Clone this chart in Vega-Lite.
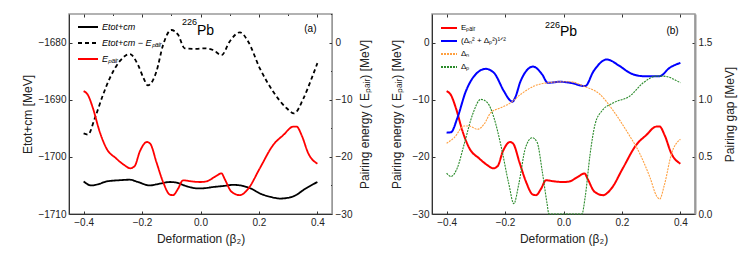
{
  "$schema": "https://vega.github.io/schema/vega-lite/v6.json",
  "padding": {"left": 20, "top": 12, "right": 5, "bottom": 5},
  "spacing": 18,
  "config": {
    "font": "Liberation Sans",
    "view": {"stroke": "#999", "strokeWidth": 1.5},
    "axis": {"labelFontSize": 10, "labelColor": "#222", "titleFontSize": 12, "titleFontWeight": "normal", "titleColor": "#222", "grid": false, "tickColor": "#333", "domainColor": "#333", "labelPadding": 6, "titlePadding": 6}
  },
  "datasets": {
    "tot": [
      {"b": -0.4, "E": -1704.3, "s": "Etot+cm"}, {"b": -0.374, "E": -1705.0, "s": "Etot+cm"}, {"b": -0.35, "E": -1704.8, "s": "Etot+cm"},
      {"b": -0.322, "E": -1704.3, "s": "Etot+cm"}, {"b": -0.28, "E": -1704.1, "s": "Etot+cm"}, {"b": -0.242, "E": -1704.0, "s": "Etot+cm"},
      {"b": -0.214, "E": -1704.4, "s": "Etot+cm"}, {"b": -0.174, "E": -1705.0, "s": "Etot+cm"}, {"b": -0.14, "E": -1704.7, "s": "Etot+cm"},
      {"b": -0.105, "E": -1704.4, "s": "Etot+cm"}, {"b": -0.083, "E": -1704.5, "s": "Etot+cm"}, {"b": -0.05, "E": -1705.1, "s": "Etot+cm"},
      {"b": -0.014, "E": -1705.5, "s": "Etot+cm"}, {"b": 0.009, "E": -1705.5, "s": "Etot+cm"}, {"b": 0.04, "E": -1705.3, "s": "Etot+cm"},
      {"b": 0.078, "E": -1705.1, "s": "Etot+cm"}, {"b": 0.112, "E": -1704.9, "s": "Etot+cm"}, {"b": 0.146, "E": -1705.1, "s": "Etot+cm"},
      {"b": 0.175, "E": -1705.6, "s": "Etot+cm"}, {"b": 0.203, "E": -1706.4, "s": "Etot+cm"}, {"b": 0.24, "E": -1707.0, "s": "Etot+cm"},
      {"b": 0.272, "E": -1707.3, "s": "Etot+cm"}, {"b": 0.306, "E": -1707.1, "s": "Etot+cm"}, {"b": 0.33, "E": -1706.6, "s": "Etot+cm"},
      {"b": 0.352, "E": -1705.8, "s": "Etot+cm"}, {"b": 0.375, "E": -1705.1, "s": "Etot+cm"}, {"b": 0.4, "E": -1704.4, "s": "Etot+cm"},
      {"b": -0.4, "E": -1695.9, "s": "Etot+cm − Eₚₐᵢᵣ"}, {"b": -0.385, "E": -1696.1, "s": "Etot+cm − Eₚₐᵢᵣ"}, {"b": -0.362, "E": -1693.3, "s": "Etot+cm − Eₚₐᵢᵣ"},
      {"b": -0.334, "E": -1689.2, "s": "Etot+cm − Eₚₐᵢᵣ"}, {"b": -0.311, "E": -1686.3, "s": "Etot+cm − Eₚₐᵢᵣ"}, {"b": -0.277, "E": -1683.3, "s": "Etot+cm − Eₚₐᵢᵣ"},
      {"b": -0.242, "E": -1682.0, "s": "Etot+cm − Eₚₐᵢᵣ"}, {"b": -0.214, "E": -1683.9, "s": "Etot+cm − Eₚₐᵢᵣ"}, {"b": -0.195, "E": -1686.2, "s": "Etot+cm − Eₚₐᵢᵣ"},
      {"b": -0.18, "E": -1687.5, "s": "Etot+cm − Eₚₐᵢᵣ"}, {"b": -0.165, "E": -1686.8, "s": "Etot+cm − Eₚₐᵢᵣ"}, {"b": -0.151, "E": -1685.1, "s": "Etot+cm − Eₚₐᵢᵣ"},
      {"b": -0.128, "E": -1680.4, "s": "Etot+cm − Eₚₐᵢᵣ"}, {"b": -0.1, "E": -1677.8, "s": "Etot+cm − Eₚₐᵢᵣ"}, {"b": -0.077, "E": -1678.6, "s": "Etot+cm − Eₚₐᵢᵣ"},
      {"b": -0.054, "E": -1681.0, "s": "Etot+cm − Eₚₐᵢᵣ"}, {"b": -0.014, "E": -1681.1, "s": "Etot+cm − Eₚₐᵢᵣ"}, {"b": 0.009, "E": -1681.0, "s": "Etot+cm − Eₚₐᵢᵣ"},
      {"b": 0.043, "E": -1681.3, "s": "Etot+cm − Eₚₐᵢᵣ"}, {"b": 0.072, "E": -1682.2, "s": "Etot+cm − Eₚₐᵢᵣ"}, {"b": 0.1, "E": -1679.8, "s": "Etot+cm − Eₚₐᵢᵣ"},
      {"b": 0.135, "E": -1678.2, "s": "Etot+cm − Eₚₐᵢᵣ"}, {"b": 0.163, "E": -1679.8, "s": "Etot+cm − Eₚₐᵢᵣ"}, {"b": 0.203, "E": -1684.5, "s": "Etot+cm − Eₚₐᵢᵣ"},
      {"b": 0.249, "E": -1688.6, "s": "Etot+cm − Eₚₐᵢᵣ"}, {"b": 0.295, "E": -1691.5, "s": "Etot+cm − Eₚₐᵢᵣ"}, {"b": 0.32, "E": -1692.4, "s": "Etot+cm − Eₚₐᵢᵣ"},
      {"b": 0.352, "E": -1689.8, "s": "Etot+cm − Eₚₐᵢᵣ"}, {"b": 0.38, "E": -1686.3, "s": "Etot+cm − Eₚₐᵢᵣ"}, {"b": 0.4, "E": -1683.6, "s": "Etot+cm − Eₚₐᵢᵣ"}
    ],
    "pair": [
      {"b": -0.4, "P": -8.5}, {"b": -0.385, "P": -9.2}, {"b": -0.368, "P": -11.5}, {"b": -0.345, "P": -15.6}, {"b": -0.322, "P": -18.5},
      {"b": -0.288, "P": -20.3}, {"b": -0.262, "P": -21.4}, {"b": -0.24, "P": -22.0}, {"b": -0.225, "P": -21.6}, {"b": -0.208, "P": -19.1},
      {"b": -0.183, "P": -17.4}, {"b": -0.172, "P": -17.7}, {"b": -0.151, "P": -20.9}, {"b": -0.128, "P": -24.4}, {"b": -0.105, "P": -26.6},
      {"b": -0.094, "P": -26.7}, {"b": -0.077, "P": -25.6}, {"b": -0.06, "P": -24.1}, {"b": -0.03, "P": -24.3}, {"b": 0.0, "P": -24.4},
      {"b": 0.02, "P": -24.3}, {"b": 0.049, "P": -23.5}, {"b": 0.072, "P": -22.9}, {"b": 0.083, "P": -23.9}, {"b": 0.106, "P": -26.1},
      {"b": 0.135, "P": -26.7}, {"b": 0.163, "P": -25.6}, {"b": 0.203, "P": -22.0}, {"b": 0.249, "P": -17.9}, {"b": 0.283, "P": -16.2},
      {"b": 0.318, "P": -14.7}, {"b": 0.329, "P": -14.7}, {"b": 0.346, "P": -16.2}, {"b": 0.369, "P": -19.4}, {"b": 0.4, "P": -21.2}
    ],
    "gap": [
      {"b": -0.4, "G": 0.712}, {"b": -0.385, "G": 0.715}, {"b": -0.363, "G": 0.842}, {"b": -0.334, "G": 1.075}, {"b": -0.306, "G": 1.206},
      {"b": -0.266, "G": 1.27}, {"b": -0.238, "G": 1.235}, {"b": -0.204, "G": 1.075}, {"b": -0.185, "G": 1.0}, {"b": -0.175, "G": 0.982},
      {"b": -0.165, "G": 1.02}, {"b": -0.147, "G": 1.162}, {"b": -0.104, "G": 1.29}, {"b": -0.073, "G": 1.221}, {"b": -0.054, "G": 1.148},
      {"b": -0.011, "G": 1.157}, {"b": 0.023, "G": 1.148}, {"b": 0.074, "G": 1.119}, {"b": 0.103, "G": 1.25}, {"b": 0.148, "G": 1.352},
      {"b": 0.193, "G": 1.293}, {"b": 0.227, "G": 1.235}, {"b": 0.273, "G": 1.206}, {"b": 0.329, "G": 1.206}, {"b": 0.363, "G": 1.279},
      {"b": 0.4, "G": 1.322}
    ],
    "delta": [
      {"b": -0.4, "G": 0.619, "s": "Δₙ"}, {"b": -0.374, "G": 0.668, "s": "Δₙ"}, {"b": -0.34, "G": 0.77, "s": "Δₙ"}, {"b": -0.323, "G": 0.77, "s": "Δₙ"},
      {"b": -0.294, "G": 0.741, "s": "Δₙ"}, {"b": -0.272, "G": 0.785, "s": "Δₙ"}, {"b": -0.249, "G": 0.886, "s": "Δₙ"}, {"b": -0.215, "G": 0.93, "s": "Δₙ"},
      {"b": -0.181, "G": 0.973, "s": "Δₙ"}, {"b": -0.147, "G": 1.046, "s": "Δₙ"}, {"b": -0.101, "G": 1.119, "s": "Δₙ"}, {"b": -0.056, "G": 1.148, "s": "Δₙ"},
      {"b": 0.0, "G": 1.157, "s": "Δₙ"}, {"b": 0.023, "G": 1.157, "s": "Δₙ"}, {"b": 0.069, "G": 1.119, "s": "Δₙ"}, {"b": 0.125, "G": 1.046, "s": "Δₙ"},
      {"b": 0.171, "G": 0.901, "s": "Δₙ"}, {"b": 0.216, "G": 0.726, "s": "Δₙ"}, {"b": 0.262, "G": 0.523, "s": "Δₙ"}, {"b": 0.296, "G": 0.319, "s": "Δₙ"},
      {"b": 0.318, "G": 0.16, "s": "Δₙ"}, {"b": 0.329, "G": 0.131, "s": "Δₙ"}, {"b": 0.346, "G": 0.262, "s": "Δₙ"}, {"b": 0.369, "G": 0.523, "s": "Δₙ"},
      {"b": 0.4, "G": 0.654, "s": "Δₙ"},
      {"b": -0.4, "G": 0.357, "s": "Δₚ"}, {"b": -0.385, "G": 0.328, "s": "Δₚ"}, {"b": -0.363, "G": 0.406, "s": "Δₚ"}, {"b": -0.34, "G": 0.61, "s": "Δₚ"},
      {"b": -0.311, "G": 0.872, "s": "Δₚ"}, {"b": -0.283, "G": 1.003, "s": "Δₚ"}, {"b": -0.26, "G": 0.973, "s": "Δₚ"}, {"b": -0.238, "G": 0.842, "s": "Δₚ"},
      {"b": -0.215, "G": 0.61, "s": "Δₚ"}, {"b": -0.187, "G": 0.262, "s": "Δₚ"}, {"b": -0.17, "G": 0.09, "s": "Δₚ"}, {"b": -0.153, "G": 0.262, "s": "Δₚ"},
      {"b": -0.13, "G": 0.581, "s": "Δₚ"}, {"b": -0.107, "G": 0.668, "s": "Δₚ"}, {"b": -0.09, "G": 0.625, "s": "Δₚ"}, {"b": -0.073, "G": 0.378, "s": "Δₚ"},
      {"b": -0.056, "G": 0.087, "s": "Δₚ"}, {"b": -0.05, "G": 0.0, "s": "Δₚ"}, {"b": 0.063, "G": 0.0, "s": "Δₚ"}, {"b": 0.074, "G": 0.145, "s": "Δₚ"},
      {"b": 0.091, "G": 0.523, "s": "Δₚ"}, {"b": 0.108, "G": 0.785, "s": "Δₚ"}, {"b": 0.131, "G": 0.901, "s": "Δₚ"}, {"b": 0.171, "G": 0.973, "s": "Δₚ"},
      {"b": 0.227, "G": 1.032, "s": "Δₚ"}, {"b": 0.273, "G": 1.148, "s": "Δₚ"}, {"b": 0.318, "G": 1.206, "s": "Δₚ"}, {"b": 0.341, "G": 1.206, "s": "Δₚ"},
      {"b": 0.4, "G": 1.148, "s": "Δₚ"}
    ]
  },
  "resolve": {"scale": {"color": "independent", "strokeDash": "independent"}, "legend": {"color": "independent", "strokeDash": "independent"}},
  "hconcat": [
    {
      "width": 263, "height": 200,
      "resolve": {"scale": {"y": "independent"}, "axis": {"x": "independent"}},
      "layer": [
        {
          "layer": [
            {
              "data": {"name": "tot"},
              "mark": {"type": "line", "interpolate": "monotone", "strokeWidth": 1.8},
              "encoding": {
                "x": {"field": "b", "type": "quantitative", "scale": {"domain": [-0.45, 0.45], "nice": false, "zero": false},
                  "axis": {"orient": "bottom", "title": "Deformation (β₂)", "values": [-0.4, -0.3, -0.2, -0.1, 0, 0.1, 0.2, 0.3, 0.4], "format": ".1f",
                    "labelExpr": "round(datum.value*10) % 2 === 0 ? datum.label : ''",
                    "tickSize": {"condition": {"test": "round(datum.value*10) % 2 !== 0", "value": -1.5}, "value": -3}}},
                "y": {"field": "E", "type": "quantitative", "scale": {"domain": [-1710, -1675], "nice": false, "zero": false},
                  "axis": {"orient": "left", "title": "Etot+cm [MeV]", "titleX": -35, "titleBaseline": "bottom", "format": "d", "values": [-1710, -1705, -1700, -1695, -1690, -1685, -1680, -1675],
                    "labelExpr": "round(datum.value) % 10 === 0 ? datum.label : ''",
                    "tickSize": {"condition": {"test": "round(datum.value) % 10 !== 0", "value": -1.5}, "value": -3}}},
                "color": {"field": "s", "type": "nominal", "scale": {"domain": ["Etot+cm", "Etot+cm − Eₚₐᵢᵣ", "Eₚₐᵢᵣ"], "range": ["#000000", "#000000", "#ff0000"]},
                  "legend": {"title": null, "orient": "none", "legendX": 8, "legendY": 2, "symbolType": "stroke", "symbolSize": 400, "symbolStrokeWidth": 1.8, "labelFontSize": 9, "labelFontStyle": "italic", "rowPadding": -4, "labelOffset": 3}},
                "strokeDash": {"field": "s", "type": "nominal", "scale": {"domain": ["Etot+cm", "Etot+cm − Eₚₐᵢᵣ", "Eₚₐᵢᵣ"], "range": [[1, 0], [4, 3], [1, 0]]},
                  "legend": {"title": null, "orient": "none", "legendX": 8, "legendY": 2, "symbolType": "stroke", "symbolSize": 400, "symbolStrokeWidth": 1.8, "labelFontSize": 9, "labelFontStyle": "italic", "rowPadding": -4, "labelOffset": 3}}
              }
            },
            {
              "data": {"values": [{}]},
              "mark": {"type": "text", "text": "Pb", "align": "left", "baseline": "alphabetic", "fontSize": 14},
              "encoding": {"x": {"datum": -0.012, "type": "quantitative"}, "y": {"datum": -1678.6, "type": "quantitative"}}
            },
            {
              "data": {"values": [{}]},
              "mark": {"type": "text", "text": "226", "align": "right", "baseline": "alphabetic", "fontSize": 9},
              "encoding": {"x": {"datum": -0.012, "type": "quantitative"}, "y": {"datum": -1677.0, "type": "quantitative"}}
            },
            {
              "data": {"values": [{}]},
              "mark": {"type": "text", "text": "(a)", "align": "center", "baseline": "alphabetic", "fontSize": 10},
              "encoding": {"x": {"datum": 0.376, "type": "quantitative"}, "y": {"datum": -1678.1, "type": "quantitative"}}
            }
          ]
        },
        {
          "data": {"name": "pair"},
          "transform": [{"calculate": "'Eₚₐᵢᵣ'", "as": "s"}],
          "mark": {"type": "line", "interpolate": "monotone", "strokeWidth": 1.8},
          "encoding": {
            "x": {"field": "b", "type": "quantitative", "scale": {"domain": [-0.45, 0.45], "nice": false, "zero": false},
              "axis": {"orient": "top", "title": null, "labels": false, "domain": false, "values": [-0.4, -0.3, -0.2, -0.1, 0, 0.1, 0.2, 0.3, 0.4],
                "tickSize": {"condition": {"test": "round(datum.value*10) % 2 !== 0", "value": -1.5}, "value": -3}}},
            "y": {"field": "P", "type": "quantitative", "scale": {"domain": [-30, 5], "nice": false, "zero": false},
              "axis": {"orient": "right", "title": "Pairing energy ( Eₚₐᵢᵣ) [MeV]", "titleAngle": -90, "titleBaseline": "top", "titleX": 27, "format": "d", "domainColor": "#999", "values": [-30, -25, -20, -15, -10, -5, 0, 5],
                "labelExpr": "round(datum.value) % 10 === 0 ? datum.label : ''",
                "tickSize": {"condition": {"test": "round(datum.value) % 10 !== 0", "value": -1.5}, "value": -3}}},
            "color": {"field": "s", "type": "nominal"},
            "strokeDash": {"field": "s", "type": "nominal"}
          }
        }
      ]
    },
    {
      "width": 263, "height": 200,
      "resolve": {"scale": {"y": "independent"}, "axis": {"x": "independent"}},
      "layer": [
        {
          "layer": [
            {
              "data": {"name": "pair"},
              "transform": [{"calculate": "'Eₚₐᵢᵣ'", "as": "s"}],
              "mark": {"type": "line", "interpolate": "monotone", "strokeWidth": 2},
              "encoding": {
                "x": {"field": "b", "type": "quantitative", "scale": {"domain": [-0.45, 0.45], "nice": false, "zero": false},
                  "axis": {"orient": "bottom", "title": "Deformation (β₂)", "values": [-0.4, -0.3, -0.2, -0.1, 0, 0.1, 0.2, 0.3, 0.4], "format": ".1f",
                    "labelExpr": "round(datum.value*10) % 2 === 0 ? datum.label : ''",
                    "tickSize": {"condition": {"test": "round(datum.value*10) % 2 !== 0", "value": -1.5}, "value": -3}}},
                "y": {"field": "P", "type": "quantitative", "scale": {"domain": [-30, 5], "nice": false, "zero": false},
                  "axis": {"orient": "left", "title": "Pairing energy ( Eₚₐᵢᵣ) [MeV]", "titleX": -29, "titleBaseline": "bottom", "format": "d", "values": [-30, -25, -20, -15, -10, -5, 0, 5],
                    "labelExpr": "round(datum.value) % 10 === 0 ? datum.label : ''",
                    "tickSize": {"condition": {"test": "round(datum.value) % 10 !== 0", "value": -1.5}, "value": -3}}},
                "color": {"field": "s", "type": "nominal", "scale": {"domain": ["Eₚₐᵢᵣ", "(Δₙ² + Δₚ²)¹ᐟ²", "Δₙ", "Δₚ"], "range": ["#ff0000", "#0000ff", "#ffa040", "#2a8a2a"]},
                  "legend": {"title": null, "orient": "none", "legendX": 8, "legendY": 5, "symbolType": "stroke", "symbolSize": 256, "symbolStrokeWidth": 1.8, "labelFontSize": 8, "rowPadding": -4.5, "labelOffset": 3}},
                "strokeDash": {"field": "s", "type": "nominal", "scale": {"domain": ["Eₚₐᵢᵣ", "(Δₙ² + Δₚ²)¹ᐟ²", "Δₙ", "Δₚ"], "range": [[1, 0], [1, 0], [2, 1], [2, 1]]},
                  "legend": {"title": null, "orient": "none", "legendX": 8, "legendY": 5, "symbolType": "stroke", "symbolSize": 256, "symbolStrokeWidth": 1.8, "labelFontSize": 8, "rowPadding": -4.5, "labelOffset": 3}}
              }
            },
            {
              "data": {"values": [{}]},
              "mark": {"type": "text", "text": "Pb", "align": "left", "baseline": "alphabetic", "fontSize": 14},
              "encoding": {"x": {"datum": -0.012, "type": "quantitative"}, "y": {"datum": 1.1, "type": "quantitative"}}
            },
            {
              "data": {"values": [{}]},
              "mark": {"type": "text", "text": "226", "align": "right", "baseline": "alphabetic", "fontSize": 9},
              "encoding": {"x": {"datum": -0.012, "type": "quantitative"}, "y": {"datum": 2.5, "type": "quantitative"}}
            },
            {
              "data": {"values": [{}]},
              "mark": {"type": "text", "text": "(b)", "align": "center", "baseline": "alphabetic", "fontSize": 10},
              "encoding": {"x": {"datum": 0.373, "type": "quantitative"}, "y": {"datum": 1.45, "type": "quantitative"}}
            }
          ]
        },
        {
          "layer": [
            {
              "data": {"name": "gap"},
              "transform": [{"calculate": "'(Δₙ² + Δₚ²)¹ᐟ²'", "as": "s"}],
              "mark": {"type": "line", "interpolate": "monotone", "strokeWidth": 2},
              "encoding": {
                "x": {"field": "b", "type": "quantitative", "scale": {"domain": [-0.45, 0.45], "nice": false, "zero": false},
                  "axis": {"orient": "top", "title": null, "labels": false, "domain": false, "values": [-0.4, -0.3, -0.2, -0.1, 0, 0.1, 0.2, 0.3, 0.4],
                    "tickSize": {"condition": {"test": "round(datum.value*10) % 2 !== 0", "value": -1.5}, "value": -3}}},
                "y": {"field": "G", "type": "quantitative", "scale": {"domain": [0, 1.75], "nice": false, "zero": false},
                  "axis": {"orient": "right", "title": "Pairing gap [MeV]", "titleAngle": -90, "titleBaseline": "top", "titleX": 29, "domainColor": "#999", "domainWidth": 2, "values": [0, 0.25, 0.5, 0.75, 1, 1.25, 1.5, 1.75], "format": ".1f",
                    "labelExpr": "round(datum.value*4) % 2 === 0 ? datum.label : ''",
                    "tickSize": {"condition": {"test": "round(datum.value*4) % 2 !== 0", "value": -1.5}, "value": -3}}},
                "color": {"field": "s", "type": "nominal"},
                "strokeDash": {"field": "s", "type": "nominal"}
              }
            },
            {
              "data": {"name": "delta"},
              "mark": {"type": "line", "interpolate": "monotone", "strokeWidth": 1.1},
              "encoding": {
                "x": {"field": "b", "type": "quantitative"},
                "y": {"field": "G", "type": "quantitative"},
                "color": {"field": "s", "type": "nominal"},
                "strokeDash": {"field": "s", "type": "nominal"}
              }
            }
          ]
        }
      ]
    }
  ]
}
